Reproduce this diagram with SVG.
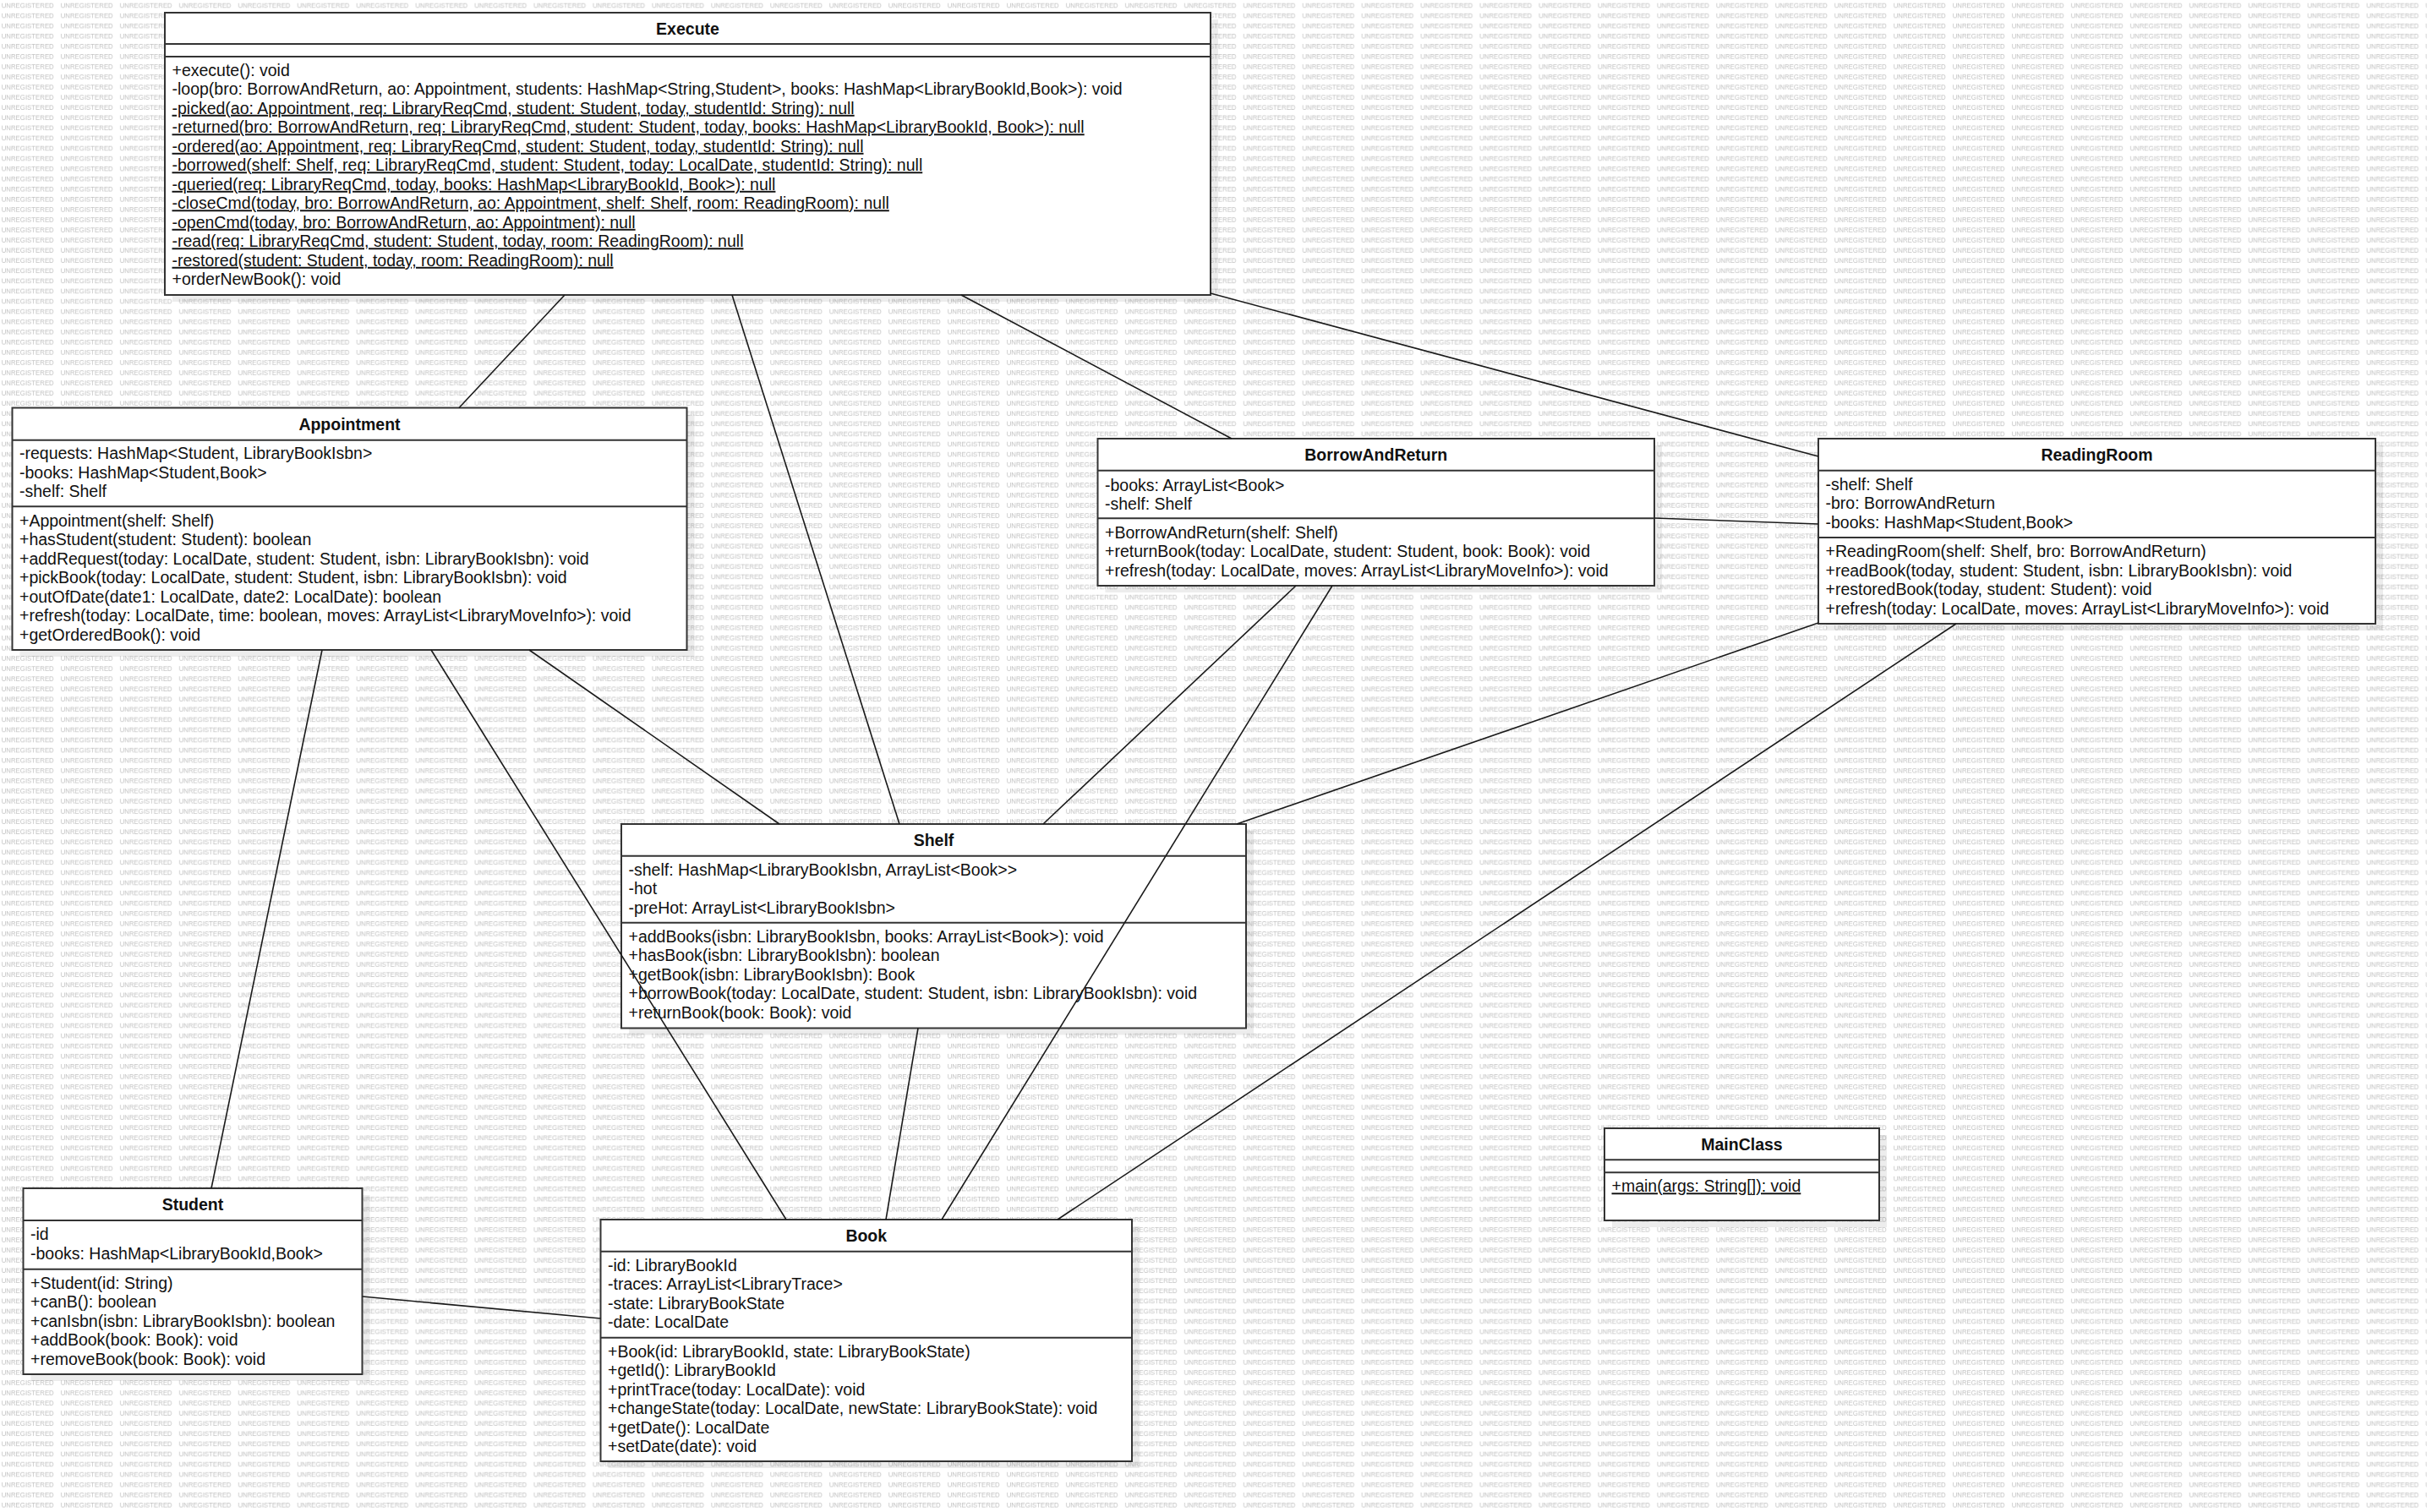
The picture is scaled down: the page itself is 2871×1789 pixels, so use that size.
<svg xmlns="http://www.w3.org/2000/svg" width="2871" height="1789" viewBox="0 0 2871 1789">
<style>
.bg{fill:#ffffff}
.wmt{font-family:"Liberation Sans",Arial,sans-serif;font-size:8.4px;fill:#c2c2c2}
.sh{fill:#000;opacity:0.07}
.box{fill:#fff;stroke:#333;stroke-width:2}
.dv{stroke:#333;stroke-width:2}
.t{font-family:"Liberation Sans",Arial,sans-serif;font-size:19.5px;fill:#111}
.ti{font-weight:bold;text-anchor:middle}
.u{text-decoration:underline}
.conn line{stroke:#1a1a1a;stroke-width:1.6;fill:none}
</style>
<defs>
<pattern id="wm" patternUnits="userSpaceOnUse" x="0" y="0" width="69.94" height="12.07">
<text class="wmt" x="1.7" y="9.6" textLength="62" lengthAdjust="spacingAndGlyphs">UNREGISTERED</text>
</pattern>
</defs>
<rect class="bg" x="0" y="0" width="2871" height="1789"/>
<rect x="0" y="0" width="2871" height="1789" fill="url(#wm)"/>

<g id="Execute">
<rect class="sh" x="204" y="23" width="1237" height="334"/>
<rect class="box" x="195" y="15" width="1237" height="334"/>
<line class="dv" x1="195" y1="52" x2="1432" y2="52"/>
<line class="dv" x1="195" y1="67" x2="1432" y2="67"/>
<text class="t ti" x="813.5" y="40.5">Execute</text>
<text class="t" x="203.5" y="89.8">+execute(): void</text>
<text class="t" x="203.5" y="112.3">-loop(bro: BorrowAndReturn, ao: Appointment, students: HashMap&lt;String,Student&gt;, books: HashMap&lt;LibraryBookId,Book&gt;): void</text>
<text class="t u" x="203.5" y="134.8">-picked(ao: Appointment, req: LibraryReqCmd, student: Student, today, studentId: String): null</text>
<text class="t u" x="203.5" y="157.3">-returned(bro: BorrowAndReturn, req: LibraryReqCmd, student: Student, today, books: HashMap&lt;LibraryBookId, Book&gt;): null</text>
<text class="t u" x="203.5" y="179.8">-ordered(ao: Appointment, req: LibraryReqCmd, student: Student, today, studentId: String): null</text>
<text class="t u" x="203.5" y="202.3">-borrowed(shelf: Shelf, req: LibraryReqCmd, student: Student, today: LocalDate, studentId: String): null</text>
<text class="t u" x="203.5" y="224.8">-queried(req: LibraryReqCmd, today, books: HashMap&lt;LibraryBookId, Book&gt;): null</text>
<text class="t u" x="203.5" y="247.3">-closeCmd(today, bro: BorrowAndReturn, ao: Appointment, shelf: Shelf, room: ReadingRoom): null</text>
<text class="t u" x="203.5" y="269.8">-openCmd(today, bro: BorrowAndReturn, ao: Appointment): null</text>
<text class="t u" x="203.5" y="292.3">-read(req: LibraryReqCmd, student: Student, today, room: ReadingRoom): null</text>
<text class="t u" x="203.5" y="314.8">-restored(student: Student, today, room: ReadingRoom): null</text>
<text class="t" x="203.5" y="337.3">+orderNewBook(): void</text>
</g>

<g id="Appointment">
<rect class="sh" x="23.5" y="490.5" width="798" height="286.5"/>
<rect class="box" x="14.5" y="482.5" width="798" height="286.5"/>
<line class="dv" x1="14.5" y1="520.7" x2="812.5" y2="520.7"/>
<line class="dv" x1="14.5" y1="599.3" x2="812.5" y2="599.3"/>
<text class="t ti" x="413.5" y="508.6">Appointment</text>
<text class="t" x="23" y="543.2">-requests: HashMap&lt;Student, LibraryBookIsbn&gt;</text>
<text class="t" x="23" y="565.7">-books: HashMap&lt;Student,Book&gt;</text>
<text class="t" x="23" y="588.2">-shelf: Shelf</text>
<text class="t" x="23" y="622.5">+Appointment(shelf: Shelf)</text>
<text class="t" x="23" y="645">+hasStudent(student: Student): boolean</text>
<text class="t" x="23" y="667.5">+addRequest(today: LocalDate, student: Student, isbn: LibraryBookIsbn): void</text>
<text class="t" x="23" y="690">+pickBook(today: LocalDate, student: Student, isbn: LibraryBookIsbn): void</text>
<text class="t" x="23" y="712.5">+outOfDate(date1: LocalDate, date2: LocalDate): boolean</text>
<text class="t" x="23" y="735">+refresh(today: LocalDate, time: boolean, moves: ArrayList&lt;LibraryMoveInfo&gt;): void</text>
<text class="t" x="23" y="757.5">+getOrderedBook(): void</text>
</g>

<g id="BorrowAndReturn">
<rect class="sh" x="1307.5" y="527" width="658.5" height="174"/>
<rect class="box" x="1298.5" y="519" width="658.5" height="174"/>
<line class="dv" x1="1298.5" y1="556.7" x2="1957" y2="556.7"/>
<line class="dv" x1="1298.5" y1="613.3" x2="1957" y2="613.3"/>
<text class="t ti" x="1627.75" y="544.9">BorrowAndReturn</text>
<text class="t" x="1307" y="580.5">-books: ArrayList&lt;Book&gt;</text>
<text class="t" x="1307" y="603">-shelf: Shelf</text>
<text class="t" x="1307" y="636.5">+BorrowAndReturn(shelf: Shelf)</text>
<text class="t" x="1307" y="659">+returnBook(today: LocalDate, student: Student, book: Book): void</text>
<text class="t" x="1307" y="681.5">+refresh(today: LocalDate, moves: ArrayList&lt;LibraryMoveInfo&gt;): void</text>
</g>

<g id="ReadingRoom">
<rect class="sh" x="2160" y="527" width="659" height="219"/>
<rect class="box" x="2151" y="519" width="659" height="219"/>
<line class="dv" x1="2151" y1="556.7" x2="2810" y2="556.7"/>
<line class="dv" x1="2151" y1="636" x2="2810" y2="636"/>
<text class="t ti" x="2480.5" y="544.9">ReadingRoom</text>
<text class="t" x="2159.5" y="579.7">-shelf: Shelf</text>
<text class="t" x="2159.5" y="602.2">-bro: BorrowAndReturn</text>
<text class="t" x="2159.5" y="624.7">-books: HashMap&lt;Student,Book&gt;</text>
<text class="t" x="2159.5" y="659">+ReadingRoom(shelf: Shelf, bro: BorrowAndReturn)</text>
<text class="t" x="2159.5" y="681.5">+readBook(today, student: Student, isbn: LibraryBookIsbn): void</text>
<text class="t" x="2159.5" y="704">+restoredBook(today, student: Student): void</text>
<text class="t" x="2159.5" y="726.5">+refresh(today: LocalDate, moves: ArrayList&lt;LibraryMoveInfo&gt;): void</text>
</g>

<g id="Shelf">
<rect class="sh" x="744" y="983" width="739" height="241.5"/>
<rect class="box" x="735" y="975" width="739" height="241.5"/>
<line class="dv" x1="735" y1="1012.7" x2="1474" y2="1012.7"/>
<line class="dv" x1="735" y1="1091.7" x2="1474" y2="1091.7"/>
<text class="t ti" x="1104.5" y="1000.9">Shelf</text>
<text class="t" x="743.5" y="1035.7">-shelf: HashMap&lt;LibraryBookIsbn, ArrayList&lt;Book&gt;&gt;</text>
<text class="t" x="743.5" y="1058.2">-hot</text>
<text class="t" x="743.5" y="1080.7">-preHot: ArrayList&lt;LibraryBookIsbn&gt;</text>
<text class="t" x="743.5" y="1114.7">+addBooks(isbn: LibraryBookIsbn, books: ArrayList&lt;Book&gt;): void</text>
<text class="t" x="743.5" y="1137.2">+hasBook(isbn: LibraryBookIsbn): boolean</text>
<text class="t" x="743.5" y="1159.7">+getBook(isbn: LibraryBookIsbn): Book</text>
<text class="t" x="743.5" y="1182.2">+borrowBook(today: LocalDate, student: Student, isbn: LibraryBookIsbn): void</text>
<text class="t" x="743.5" y="1204.7">+returnBook(book: Book): void</text>
</g>

<g id="Student">
<rect class="sh" x="36.5" y="1414" width="401" height="220"/>
<rect class="box" x="27.5" y="1406" width="401" height="220"/>
<line class="dv" x1="27.5" y1="1444" x2="428.5" y2="1444"/>
<line class="dv" x1="27.5" y1="1501.7" x2="428.5" y2="1501.7"/>
<text class="t ti" x="228" y="1432">Student</text>
<text class="t" x="36" y="1467">-id</text>
<text class="t" x="36" y="1489.5">-books: HashMap&lt;LibraryBookId,Book&gt;</text>
<text class="t" x="36" y="1524.7">+Student(id: String)</text>
<text class="t" x="36" y="1547.2">+canB(): boolean</text>
<text class="t" x="36" y="1569.7">+canIsbn(isbn: LibraryBookIsbn): boolean</text>
<text class="t" x="36" y="1592.2">+addBook(book: Book): void</text>
<text class="t" x="36" y="1614.7">+removeBook(book: Book): void</text>
</g>

<g id="Book">
<rect class="sh" x="719.5" y="1451" width="628.5" height="286"/>
<rect class="box" x="710.5" y="1443" width="628.5" height="286"/>
<line class="dv" x1="710.5" y1="1480.7" x2="1339" y2="1480.7"/>
<line class="dv" x1="710.5" y1="1582.7" x2="1339" y2="1582.7"/>
<text class="t ti" x="1024.75" y="1468.9">Book</text>
<text class="t" x="719" y="1503.7">-id: LibraryBookId</text>
<text class="t" x="719" y="1526.2">-traces: ArrayList&lt;LibraryTrace&gt;</text>
<text class="t" x="719" y="1548.7">-state: LibraryBookState</text>
<text class="t" x="719" y="1571.2">-date: LocalDate</text>
<text class="t" x="719" y="1605.7">+Book(id: LibraryBookId, state: LibraryBookState)</text>
<text class="t" x="719" y="1628.2">+getId(): LibraryBookId</text>
<text class="t" x="719" y="1650.7">+printTrace(today: LocalDate): void</text>
<text class="t" x="719" y="1673.2">+changeState(today: LocalDate, newState: LibraryBookState): void</text>
<text class="t" x="719" y="1695.7">+getDate(): LocalDate</text>
<text class="t" x="719" y="1718.2">+setDate(date): void</text>
</g>

<g id="MainClass">
<rect class="sh" x="1907" y="1343" width="325" height="109"/>
<rect class="box" x="1898" y="1335" width="325" height="109"/>
<line class="dv" x1="1898" y1="1372.3" x2="2223" y2="1372.3"/>
<line class="dv" x1="1898" y1="1387.3" x2="2223" y2="1387.3"/>
<text class="t ti" x="2060.5" y="1360.7">MainClass</text>
<text class="t u" x="1906.5" y="1410.3">+main(args: String[]): void</text>
</g>

<g id="connectors" class="conn">
<line x1="668" y1="349" x2="543" y2="482.5"/>
<line x1="866" y1="349" x2="1064" y2="975"/>
<line x1="1137" y1="349" x2="1457" y2="519"/>
<line x1="1432" y1="347" x2="2151" y2="540"/>
<line x1="381" y1="769" x2="250" y2="1406"/>
<line x1="510" y1="769" x2="930" y2="1443"/>
<line x1="626" y1="769" x2="922" y2="975"/>
<line x1="1533" y1="693" x2="1234" y2="975"/>
<line x1="1576" y1="693" x2="1114" y2="1443"/>
<line x1="1957" y1="613" x2="2151" y2="620"/>
<line x1="2151" y1="737" x2="1463" y2="975"/>
<line x1="2314" y1="738" x2="1251" y2="1443"/>
<line x1="1086" y1="1216.5" x2="1048" y2="1443"/>
<line x1="428.5" y1="1534" x2="710.5" y2="1560"/>
</g>
</svg>
